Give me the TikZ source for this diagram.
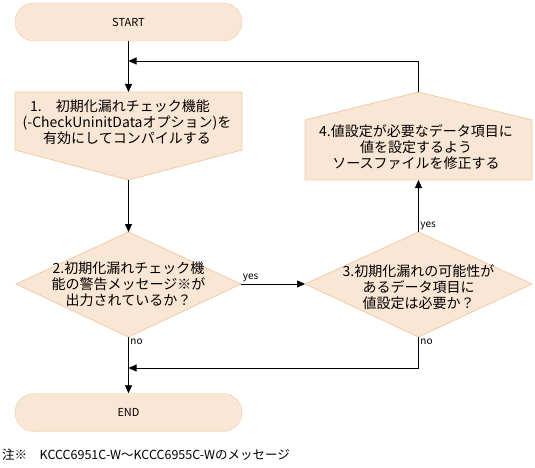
\documentclass[tikz,border=0pt]{standalone}
\usepackage{fontspec}
\setmainfont{Noto Sans CJK JP}
\usetikzlibrary{arrows.meta}
\definecolor{boxfill}{HTML}{FAE6D4}
\definecolor{boxline}{HTML}{F0CCAA}

\begin{document}
\begin{tikzpicture}[x=1pt, y=-1pt,
    term/.style={draw=boxline, fill=boxfill, rounded corners=19pt, minimum width=227pt, minimum height=38pt, inner sep=0pt, font=\fontsize{11}{13}\selectfont},
    shp/.style={draw=boxline, fill=boxfill, line width=0.8pt},
    txt/.style={align=center, font=\fontsize{14}{16}\selectfont, inner sep=0pt},
    arr/.style={line width=0.8pt, -{Triangle[length=8pt,width=7pt]}},
    lbl/.style={font=\fontsize{10}{12}\selectfont, inner sep=1.5pt}]

        % fixing the page to the size of the reference
        \useasboundingbox (0,0) rectangle (535,468);

        % start and end
        \node[term] (start) at (128.5,22) {START};
        \node[term] (end) at (128.5,412.5) {END};

        % 1. compile box, pointing down
        \draw[shp] (15,92) coordinate (b1top) -- (242,92) -- (242,150) -- (128.5,180) coordinate (b1tip) -- (15,150) -- cycle;
        \coordinate (b1in) at (128.5,92);
        \node[txt] (t1) at (127,122.5) {1.\quad 初期化漏れチェック機能\phantom{ー}\\(-CheckUninitDataオプション)を\\有効にしてコンパイルする};

        % 2. warning decision
        \draw[shp] (128.5,232) coordinate (d2top) -- (241,284) coordinate (d2right) -- (128.5,337) coordinate (d2bot) -- (16,284) -- cycle;
        \node[txt] (t2) at (128.5,284.5) {2.初期化漏れチェック機\\能の警告メッセージ※が\\出力されているか？};

        % 3. value decision
        \draw[shp] (418.5,232) coordinate (d3top) -- (532,284) -- (418.5,337) coordinate (d3bot) -- (305,284) coordinate (d3left) -- cycle;
        \node[txt] (t3) at (418.5,287) {3.初期化漏れの可能性が\\あるデータ項目に\\値設定は必要か？};

        % 4. fix box, pointing up
        \draw[shp] (305,120) -- (418.5,92) coordinate (b4top) -- (532,120) -- (532,180) -- (418.5,180) coordinate (b4bot) -- (305,180) -- cycle;
        \node[txt] (t4) at (416,147) {4.値設定が必要なデータ項目に\\値を設定するよう\\ソースファイルを修正する};

        % joins on the main line
        \coordinate (loopin) at (128.5,61);
        \coordinate (noin) at (128.5,368);

        % connectors
        \draw[arr] (start.south) -- (b1in);
        \draw[arr] (b1tip) -- (d2top);
        \draw[arr] (d2right) -- node[lbl, at start, anchor=south west] {yes} (d3left);
        \draw[arr] (d3top) -- node[lbl, at start, anchor=south west] {yes} (b4bot);
        \draw[arr] (b4top) |- (loopin);
        \draw[arr] (d2bot) -- node[lbl, at start, anchor=north west] {no} (end.north);
        \draw[arr] (d3bot) -- node[lbl, at start, anchor=north west] {no} (418.5,368) -- (noin);

        % footnote
        \node[anchor=west, inner sep=0pt, font=\fontsize{12.5}{14}\selectfont] (note) at (2,455) {注※\quad KCCC6951C-W～KCCC6955C-Wのメッセージ};

\end{tikzpicture}
\end{document}
